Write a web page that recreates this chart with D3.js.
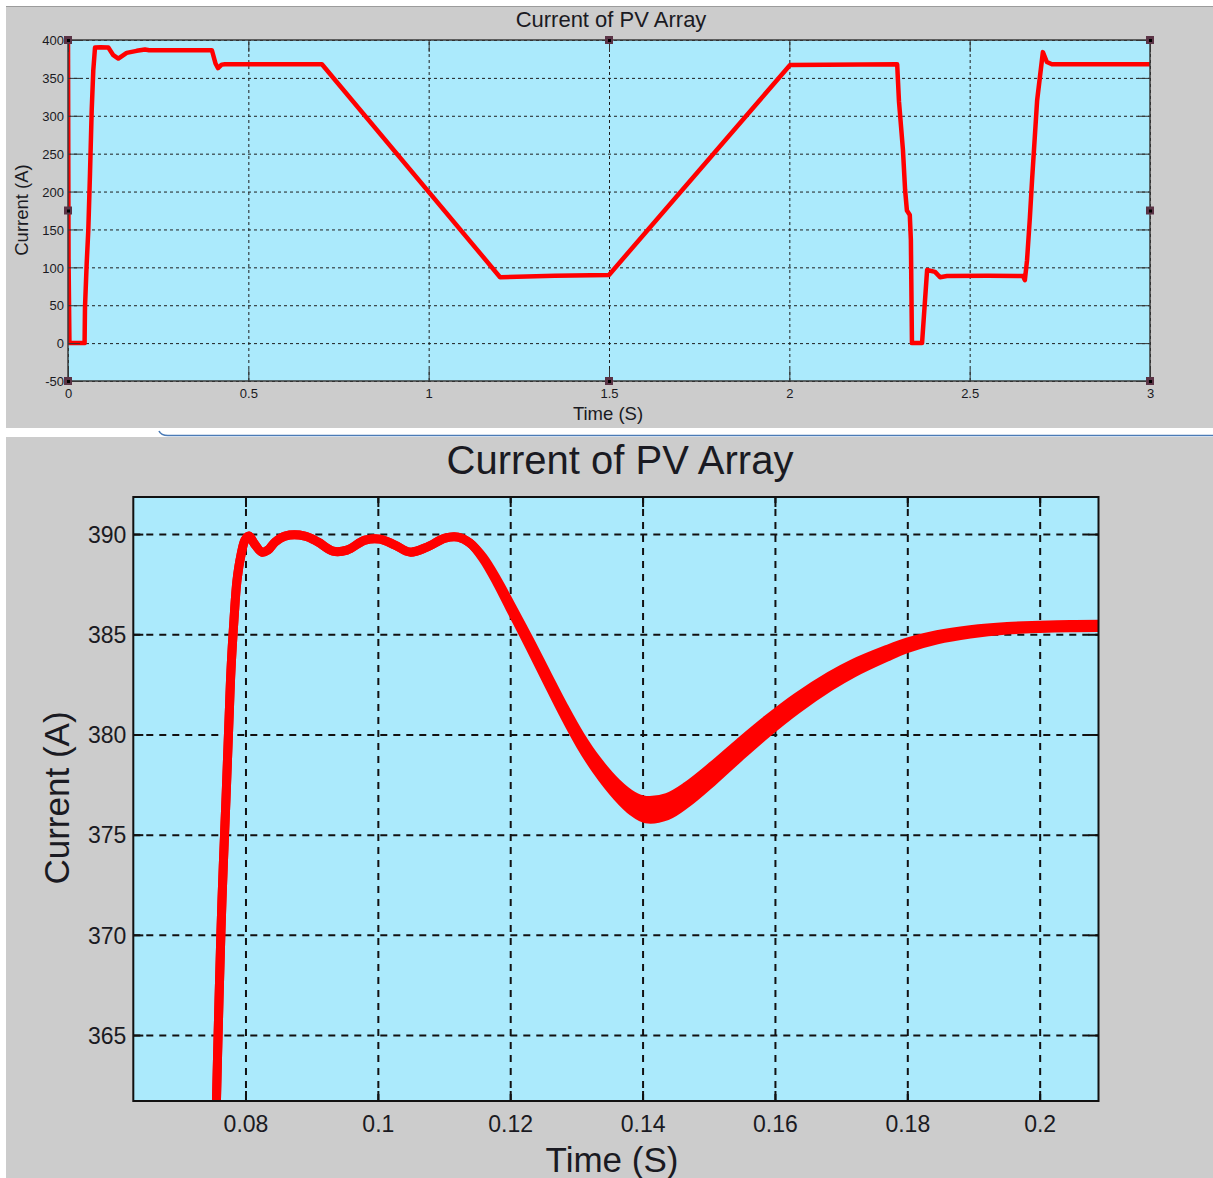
<!DOCTYPE html>
<html>
<head>
<meta charset="utf-8">
<script src="https://cdn.jsdelivr.net/npm/d3@7"></script>
<style>
  html, body { margin: 0; padding: 0; background: #ffffff; }
  svg { display: block; }
  text { font-family: "Liberation Sans", Arial, sans-serif; fill: #1a1a22; }
</style>
</head>
<body>
<svg id="fig" width="1213" height="1178"></svg>
<script>
// ---------- Overview run, 0 – 3 s ----------
const overviewTime = [0, 0.0015, 0.004, 0.046, 0.0471, 0.0518, 0.0563, 0.061, 0.0657, 0.0701, 0.0749,
  0.09, 0.1118, 0.1256, 0.1395, 0.1626, 0.1904, 0.2135, 0.225, 0.399, 0.409, 0.416, 0.426, 0.435,
  0.704, 1.198, 1.35, 1.5, 2.002, 2.299, 2.304, 2.315, 2.321, 2.326, 2.334, 2.337, 2.34, 2.368,
  2.382, 2.404, 2.418, 2.437, 2.55, 2.648, 2.653, 2.659, 2.667, 2.673, 2.687, 2.703, 2.714, 2.728, 3.0];
const overviewCurrent = [400, 112, 0, 0, 47, 105, 149, 224, 307, 360, 390,
  390.5, 390, 380, 375.5, 383, 385.7, 387.5, 386.5, 386.5, 369, 363, 367.5, 368,
  368, 87, 89, 90, 367, 368, 319, 255, 202, 175, 169, 136, 0, 0,
  96.5, 94, 87, 88.5, 89, 88.5, 83, 109, 166, 215, 320, 384, 371, 368, 368];
const overviewTimeTicks = [0, 0.5, 1, 1.5, 2, 2.5, 3];
const overviewTimeLabels = ["0", "0.5", "1", "1.5", "2", "2.5", "3"];
const overviewCurrentTicks = [-50, 0, 50, 100, 150, 200, 250, 300, 350, 400];
const overviewCurrentLabels = ["-50", "0", "50", "100", "150", "200", "250", "300", "350", "400"];

// ---------- Start-up detail, 0.063 – 0.209 s ----------
const detailTime = [0.07547, 0.07600, 0.07645, 0.07705, 0.07751, 0.07781, 0.07826, 0.07872, 0.07932,
  0.07993, 0.08053, 0.08128, 0.08249, 0.08340, 0.08446, 0.08597, 0.08899, 0.09096, 0.09322, 0.09534,
  0.09806, 0.10032, 0.10259, 0.10486, 0.10743, 0.11015, 0.11211, 0.11392,
  0.1159, 0.1180, 0.1200, 0.1230, 0.1256, 0.1280, 0.1306, 0.1331, 0.1361, 0.1385, 0.1405,
  0.1437, 0.1467, 0.1506, 0.1547, 0.1588, 0.1633, 0.1683, 0.1718, 0.1769, 0.1800,
  0.1845, 0.1895, 0.1951, 0.2000, 0.2046, 0.2090];
const detailCurrent = [359.75, 366.75, 371.74, 376.73, 380.72, 383.21, 385.71, 387.70, 388.95,
  389.70, 389.90, 389.55, 389.10, 389.20, 389.60, 389.90, 389.90, 389.60, 389.15, 389.20,
  389.70, 389.75, 389.45, 389.10, 389.35, 389.80, 389.85, 389.55,
  388.80, 387.65, 386.40, 384.50, 382.80, 381.25, 379.70, 378.45, 377.25, 376.55, 376.25,
  376.40, 377.00, 378.05, 379.25, 380.40, 381.55, 382.65, 383.30, 384.05, 384.45,
  384.85, 385.12, 385.30, 385.37, 385.41, 385.42];
// half-width of the switching ripple riding on the current (A)
const detailRipple = [0, 0, 0, 0, 0, 0, 0, 0, 0,
  0, 0, 0, 0, 0, 0, 0, 0, 0, 0, 0,
  0, 0, 0, 0, 0, 0, 0, 0,
  0.04, 0.08, 0.12, 0.16, 0.18, 0.20, 0.23, 0.27, 0.33, 0.40, 0.46,
  0.46, 0.43, 0.40, 0.37, 0.34, 0.31, 0.27, 0.24, 0.19, 0.16,
  0.13, 0.11, 0.09, 0.08, 0.08, 0.08];
const detailTimeTicks = [0.08, 0.1, 0.12, 0.14, 0.16, 0.18, 0.2];
const detailTimeLabels = ["0.08", "0.1", "0.12", "0.14", "0.16", "0.18", "0.2"];
const detailCurrentTicks = [365, 370, 375, 380, 385, 390];
const detailCurrentLabels = ["365", "370", "375", "380", "385", "390"];

const svg = d3.select("#fig");
const PLOT_BG = "#abeafc";
const PANEL_BG = "#cccccc";

// window panels
svg.append("rect").attr("x", 6).attr("y", 6).attr("width", 1207).attr("height", 422).attr("fill", PANEL_BG);
svg.append("line").attr("x1", 6).attr("x2", 1213).attr("y1", 6.5).attr("y2", 6.5).attr("stroke", "#9c9c9c");
svg.append("rect").attr("x", 6).attr("y", 437).attr("width", 1207).attr("height", 741).attr("fill", PANEL_BG);
svg.append("path").attr("d", "M159,431 Q161,435.5 168,435.5 H1213")
  .attr("fill", "none").attr("stroke", "#4b7bb6").attr("stroke-width", 1.6);

function drawPanel(cfg) {
  const w = cfg.x1 - cfg.x0, h = cfg.y1 - cfg.y0;
  const x = d3.scaleLinear().domain(cfg.xDomain).range([0, w]);
  const y = d3.scaleLinear().domain(cfg.yDomain).range([h, 0]);
  const g = svg.append("g").attr("transform", `translate(${cfg.x0},${cfg.y0})`);

  g.append("rect").attr("width", w).attr("height", h).attr("fill", PLOT_BG);

  // dashed grid
  const styleGrid = s => {
    s.select(".domain").remove();
    s.selectAll("line").attr("stroke", cfg.gridColor).attr("stroke-width", cfg.gridWidth)
      .attr("stroke-dasharray", cfg.gridDash);
  };
  g.append("g").attr("transform", `translate(0,${h})`)
    .call(d3.axisBottom(x).tickValues(cfg.xTicks).tickSize(-h).tickFormat(""))
    .call(styleGrid);
  g.append("g")
    .call(d3.axisLeft(y).tickValues(cfg.yTicks).tickSize(-w).tickFormat(""))
    .call(styleGrid);

  // data
  const clipId = cfg.id + "-clip";
  g.append("clipPath").attr("id", clipId).append("rect").attr("width", w).attr("height", h);
  const plot = g.append("g").attr("clip-path", `url(#${clipId})`);
  cfg.drawData(plot, x, y);

  // inward tick marks on all four sides
  const styleTicks = s => {
    s.select(".domain").remove();
    s.selectAll("line").attr("stroke", cfg.tickColor).attr("stroke-width", cfg.tickWidth);
  };
  const t = cfg.tickLen;
  g.append("g").attr("transform", `translate(0,${h})`)
    .call(d3.axisBottom(x).tickValues(cfg.xTicks).tickSize(-t).tickFormat("")).call(styleTicks);
  g.append("g")
    .call(d3.axisTop(x).tickValues(cfg.xTicks).tickSize(-t).tickFormat("")).call(styleTicks);
  g.append("g")
    .call(d3.axisLeft(y).tickValues(cfg.yTicks).tickSize(-t).tickFormat("")).call(styleTicks);
  g.append("g").attr("transform", `translate(${w},0)`)
    .call(d3.axisRight(y).tickValues(cfg.yTicks).tickSize(-t).tickFormat("")).call(styleTicks);

  // frame
  g.append("rect").attr("width", w).attr("height", h).attr("fill", "none")
    .attr("stroke", cfg.frameColor).attr("stroke-width", cfg.frameWidth);

  // tick labels
  g.append("g").attr("transform", `translate(0,${h})`)
    .call(d3.axisBottom(x).tickValues(cfg.xTicks).tickSize(0).tickFormat((d, i) => cfg.xLabels[i]))
    .call(s => {
      s.select(".domain").remove();
      s.selectAll("text").attr("dy", null).attr("y", cfg.xLabelY)
        .attr("font-size", cfg.tickFont).attr("font-family", null).attr("fill", "#1a1a22");
    });
  g.append("g")
    .call(d3.axisLeft(y).tickValues(cfg.yTicks).tickSize(0).tickFormat((d, i) => cfg.yLabels[i]))
    .call(s => {
      s.select(".domain").remove();
      s.selectAll("text").attr("x", -cfg.yLabelGap).attr("dy", "0.36em")
        .attr("font-size", cfg.tickFont).attr("font-family", null).attr("fill", "#1a1a22");
    });

  // titles
  svg.append("text").attr("x", cfg.titleX).attr("y", cfg.titleY).attr("text-anchor", "middle")
    .attr("font-size", cfg.titleFont).text("Current of PV Array");
  svg.append("text").attr("x", cfg.xTitleX).attr("y", cfg.xTitleY).attr("text-anchor", "middle")
    .attr("font-size", cfg.labelFont).text("Time (S)");
  svg.append("text").attr("transform", `translate(${cfg.yTitleX},${cfg.yTitleY}) rotate(-90)`)
    .attr("text-anchor", "middle").attr("font-size", cfg.labelFont).text("Current (A)");

  return { g, x, y, w, h };
}

// ---------- upper panel: full 3 s run ----------
const overviewPanel = drawPanel({
  id: "overview",
  x0: 68, x1: 1150, y0: 40, y1: 381,
  xDomain: [0, 3], yDomain: [-50, 400],
  xTicks: overviewTimeTicks, xLabels: overviewTimeLabels,
  yTicks: overviewCurrentTicks, yLabels: overviewCurrentLabels,
  gridColor: "#1e1e1e", gridWidth: 1, gridDash: "3,3",
  tickColor: "#333", tickWidth: 1, tickLen: 12,
  frameColor: "#3a3a3a", frameWidth: 1.5,
  tickFont: 13, xLabelY: 17, yLabelGap: 4,
  titleX: 611, titleY: 27, titleFont: 22,
  labelFont: 18.5, xTitleX: 608, xTitleY: 420, yTitleX: 28, yTitleY: 210,
  drawData: (p, x, y) => {
    const pts = overviewTime.map((t, i) => [t, overviewCurrent[i]]);
    p.append("path").datum(pts)
      .attr("d", d3.line().x(d => x(d[0])).y(d => y(d[1])))
      .attr("fill", "none").attr("stroke", "#ff0000").attr("stroke-width", 4.5)
      .attr("stroke-linejoin", "round").attr("stroke-linecap", "round");
  }
});

// selection handles at the corners and edge midpoints of the upper axes
{
  const { g, w, h } = overviewPanel;
  const spots = [[0, 0], [w / 2, 0], [w, 0], [0, h / 2], [w, h / 2], [0, h], [w / 2, h], [w, h]];
  spots.forEach(([px, py]) => {
    g.append("rect").attr("x", px - 4).attr("y", py - 4).attr("width", 8).attr("height", 8).attr("fill", "#5b3446");
    g.append("rect").attr("x", px - 1).attr("y", py - 1).attr("width", 3).attr("height", 3).attr("fill", "#000");
  });
}

// ---------- lower panel: start-up transient ----------
drawPanel({
  id: "detail",
  x0: 133.3, x1: 1098.5, y0: 497, y1: 1101,
  xDomain: [0.06305, 0.20889], yDomain: [361.71, 391.85],
  xTicks: detailTimeTicks, xLabels: detailTimeLabels,
  yTicks: detailCurrentTicks, yLabels: detailCurrentLabels,
  gridColor: "#111", gridWidth: 2, gridDash: "7,6",
  tickColor: "#111", tickWidth: 2, tickLen: 10,
  frameColor: "#111", frameWidth: 2,
  tickFont: 23, xLabelY: 31, yLabelGap: 7,
  titleX: 620, titleY: 474, titleFont: 40,
  labelFont: 35, xTitleX: 612, xTitleY: 1172, yTitleX: 69, yTitleY: 798,
  drawData: (p, x, y) => {
    const pts = detailTime.map((t, i) => ({ t, c: detailCurrent[i], r: detailRipple[i] }));
    const curve = d3.curveCatmullRom.alpha(0.5);
    // ripple envelope: filled band between the upper and lower excursions
    p.append("path").datum(pts)
      .attr("d", d3.area().curve(curve).x(d => x(d.t)).y0(d => y(d.c - d.r)).y1(d => y(d.c + d.r)))
      .attr("fill", "#ff0000");
    [-1, 1].forEach(sign => {
      p.append("path").datum(pts)
        .attr("d", d3.line().curve(curve).x(d => x(d.t)).y(d => y(d.c + sign * d.r)))
        .attr("fill", "none").attr("stroke", "#ff0000").attr("stroke-width", 9)
        .attr("stroke-linejoin", "round");
    });
  }
});
</script>
</body>
</html>
